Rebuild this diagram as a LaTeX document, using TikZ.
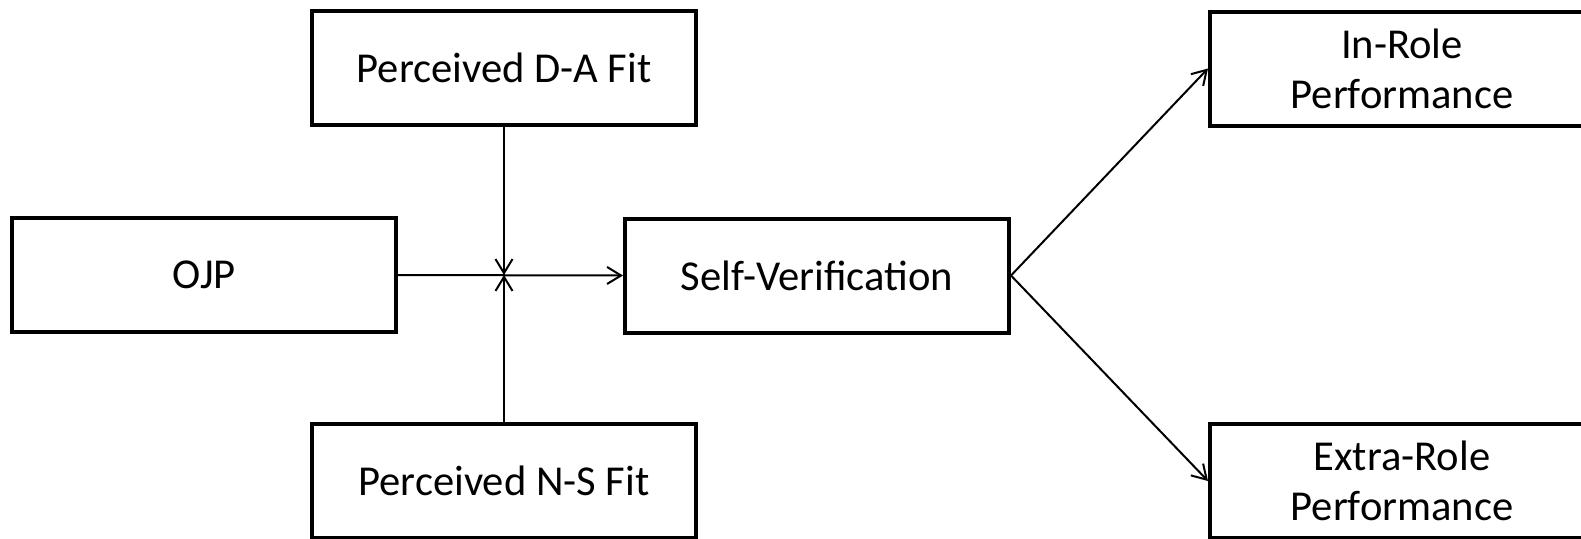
\documentclass[tikz,border=0pt]{standalone}
\usepackage{fontspec}
\setmainfont{Carlito}
\usetikzlibrary{arrows.meta}
\begin{document}
\begin{tikzpicture}[x=0.5pt,y=-0.5pt,
  box/.style={draw=black,line width=2pt,minimum width=192pt,minimum height=57pt,inner sep=0pt,
    align=center,font=\fontsize{21.3pt}{25pt}\selectfont},
  arr/.style={line width=1pt,-{Straight Barb[length=7pt,width=8.5pt,line width=1pt]}}]
\useasboundingbox (0,0) rectangle (1581,538);
\clip (0,0) rectangle (1581,538);
\node[box] (DA) at (504,67.5) {Perceived D-A Fit};
\node[box] (OJP) at (204,275) {OJP};
\node[box] (NS) at (504,481) {Perceived N-S Fit};
\node[box] (SV) at (817,275.5) {Self-Verification};
\node[box] (IR) at (1402,68.5) {In-Role\\Performance};
\node[box] (ER) at (1402,481) {Extra-Role\\Performance};
\coordinate (J) at (DA.south |- OJP.east);
\draw[arr] (OJP.east) -- (SV.west);
\draw[arr] (DA.south) -- (J);
\draw[arr] (NS.north) -- (J);
\draw[arr] (SV.east) -- (IR.west);
\draw[arr] (SV.east) -- (ER.west);
\end{tikzpicture}
\end{document}
